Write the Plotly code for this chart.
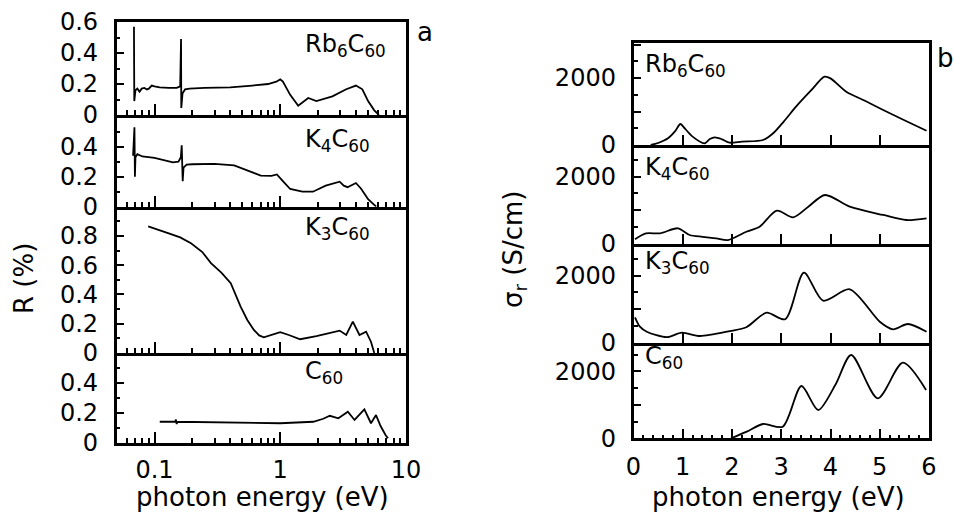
import numpy as np
import plotly.graph_objects as go

W, H = 954, 525

# ---------------- data: panel a, reflectivity R (%) vs photon energy (eV), log axis
rb6_refl_energy = [0.0686, 0.0690, 0.0705, 0.073, 0.076, 0.079, 0.083, 0.087, 0.090, 0.095, 0.10, 0.11,
                   0.13, 0.15, 0.160, 0.1625, 0.1632, 0.167, 0.175, 0.19, 0.25, 0.40, 0.60, 0.80, 0.93,
                   1.0, 1.05, 1.2, 1.39, 1.5, 1.67, 1.94, 2.6, 3.35, 4.0, 4.5, 5.0, 5.6, 6.1]
rb6_refl = [0.57, 0.09, 0.16, 0.17, 0.15, 0.17, 0.175, 0.165, 0.17, 0.19, 0.185, 0.178,
            0.175, 0.175, 0.185, 0.49, 0.045, 0.14, 0.165, 0.17, 0.175, 0.178, 0.19, 0.20, 0.215,
            0.23, 0.215, 0.13, 0.06, 0.08, 0.11, 0.09, 0.12, 0.166, 0.19, 0.166, 0.09, 0.03, 0.0]

k4_refl_energy = [0.0675, 0.068, 0.0685, 0.0692, 0.0698, 0.0705, 0.073, 0.08, 0.10, 0.12, 0.14, 0.155,
                  0.162, 0.1645, 0.166, 0.1675, 0.170, 0.18, 0.20, 0.30, 0.43, 0.55, 0.70, 0.85, 0.94,
                  1.05, 1.2, 1.5, 1.82, 2.3, 2.97, 3.2, 3.43, 4.0, 4.4, 5.0, 5.8]
k4_refl = [0.34, 0.40, 0.36, 0.53, 0.20, 0.33, 0.35, 0.335, 0.325, 0.31, 0.295, 0.30,
           0.33, 0.41, 0.33, 0.17, 0.26, 0.28, 0.283, 0.285, 0.275, 0.24, 0.207, 0.205, 0.215,
           0.17, 0.118, 0.10, 0.10, 0.14, 0.167, 0.14, 0.13, 0.158, 0.12, 0.05, 0.0]

k3_refl_energy = [0.089, 0.11, 0.128, 0.16, 0.195, 0.24, 0.281, 0.34, 0.404, 0.484, 0.547, 0.617, 0.68,
                  0.74, 0.834, 1.0, 1.17, 1.44, 1.94, 2.62, 2.97, 3.35, 3.78, 4.27, 4.82, 5.27, 5.6]
k3_refl = [0.865, 0.84, 0.82, 0.79, 0.75, 0.69, 0.614, 0.55, 0.477, 0.317, 0.226, 0.158, 0.12,
           0.107, 0.123, 0.142, 0.123, 0.094, 0.116, 0.14, 0.153, 0.123, 0.214, 0.123, 0.146, 0.077, 0.0]

c60_refl_energy = [0.110, 0.146, 0.148, 0.150, 0.152, 0.30, 1.0, 1.83, 2.2, 2.48, 2.9, 3.45, 3.9,
                   4.67, 5.27, 5.78, 6.3, 6.9, 7.2]
c60_refl = [0.14, 0.14, 0.155, 0.125, 0.14, 0.138, 0.13, 0.14, 0.16, 0.18, 0.163, 0.207, 0.152,
            0.223, 0.13, 0.185, 0.11, 0.05, 0.03]

# ---------------- data: panel b, conductivity sigma_r (S/cm) vs photon energy (eV)
rb6_cond_energy = [0.35, 0.5, 0.7, 0.85, 0.95, 1.05, 1.2, 1.44, 1.55, 1.65, 1.8, 1.95, 2.2, 2.63,
                   2.83, 3.05, 3.3, 3.6, 3.88, 4.0, 4.32, 4.7, 5.07, 5.5, 5.95]
rb6_cond = [0, 60, 200, 420, 627, 480, 250, 50, 180, 230, 170, 70, 100, 149,
            343, 700, 1144, 1620, 2039, 1990, 1591, 1320, 1045, 740, 427]

k4_cond_energy = [0.03, 0.25, 0.54, 0.9, 1.14, 1.4, 1.68, 1.92, 2.29, 2.56, 2.91, 3.24, 3.55, 3.89,
                  4.39, 5.07, 5.54, 5.95]
k4_cond = [125, 300, 304, 454, 254, 200, 155, 104, 352, 501, 979, 782, 1100, 1448,
           1099, 851, 701, 752]

k3_cond_energy = [0.03, 0.13, 0.27, 0.68, 0.98, 1.35, 1.96, 2.29, 2.7, 3.08, 3.46, 3.85, 4.39, 5.0,
                  5.27, 5.57, 5.95]
k3_cond = [758, 478, 328, 165, 299, 200, 349, 460, 896, 699, 2090, 1254, 1594, 627,
           400, 558, 328]

c60_cond_energy = [1.98, 2.3, 2.63, 3.03, 3.41, 3.75, 4.1, 4.42, 4.96, 5.47, 5.94]
c60_cond = [0, 200, 427, 346, 1561, 845, 1600, 2487, 1194, 2257, 1442]

labels = ["Rb<sub>6</sub>C<sub>60</sub>", "K<sub>4</sub>C<sub>60</sub>",
          "K<sub>3</sub>C<sub>60</sub>", "C<sub>60</sub>"]
refl_energy = [rb6_refl_energy, k4_refl_energy, k3_refl_energy, c60_refl_energy]
refl_values = [rb6_refl, k4_refl, k3_refl, c60_refl]
cond_energy = [rb6_cond_energy, k4_cond_energy, k3_cond_energy, c60_cond_energy]
cond_values = [rb6_cond, k4_cond, k3_cond, c60_cond]

refl_ticks = [[0, 0.2, 0.4, 0.6], [0, 0.2, 0.4, 0.6], [0, 0.2, 0.4, 0.6, 0.8, 1.0], [0, 0.2, 0.4, 0.6]]
refl_ticktext = [["0", "0.2", "0.4", "0.6"], ["0", "0.2", "0.4", ""],
                 ["0", "0.2", "0.4", "0.6", "0.8", ""], ["0", "0.2", "0.4", ""]]
log_major = [0.1, 1, 10]
log_major_text = ["0.1", "1", "10"]
lin_major = [0, 1, 2, 3, 4, 5, 6]

# ---------------- layout geometry (pixels in the 954x525 page)
L_X = (116.7, 406.0)
R_X = (633.5, 929.0)
L_Y = [(21.7, 115.0), (115.0, 206.7), (206.7, 353.0), (353.0, 442.7)]
R_Y = [(43.3, 145.0), (145.0, 243.5), (243.5, 342.7), (342.7, 438.3)]
L_LABEL_TOP = [28, 123, 211, 355]
R_LABEL_TOP = [48, 151, 245, 340]
L_PX_PER_UNIT = [155.0, 150.0, 146.3, 149.5]
R_PX_PER_UNIT = 33.5 / 1000.0


def xd(a, b):
    return [a / W, b / W]


def yd(top, bottom):
    return [1 - bottom / H, 1 - top / H]


FONT = dict(family="DejaVu Sans", size=24, color="black")
fig = go.Figure()
layout = dict(width=W, height=H, margin=dict(l=0, r=0, t=0, b=0, autoexpand=False),
              paper_bgcolor="white", plot_bgcolor="rgba(0,0,0,0)", showlegend=False,
              font=FONT, template="none")
annotations = []

axis_common = dict(showline=True, linecolor="black", linewidth=2.5, automargin=False,
                   showgrid=False, zeroline=False, ticks="inside", tickcolor="black",
                   tickfont=FONT, layer="above traces")

log_minor = [v * d for d in (0.01, 0.1, 1) for v in range(2, 10)]
log_minor = [v for v in log_minor if 0.05 <= v <= 10]

for i in range(4):
    n = i + 1
    xs = "x" if n == 1 else f"x{n}"
    ys = "y" if n == 1 else f"y{n}"
    fig.add_trace(go.Scatter(x=refl_energy[i], y=refl_values[i], mode="lines",
                             line=dict(color="black", width=1.8), xaxis=xs, yaxis=ys))
    bottom = (i == 3)
    top, bot = L_Y[i]
    yr = (bot - top) / L_PX_PER_UNIT[i]
    layout[f"xaxis{n}"] = dict(axis_common, type="log", domain=xd(*L_X), anchor=ys,
                               mirror=(i == 0),
                               range=[np.log10(0.05), 1.0005],
                               tickmode="array", tickvals=log_major,
                               ticktext=log_major_text, ticklen=11, tickwidth=2,
                               showticklabels=bottom, ticklabelstandoff=4,
                               minor=dict(ticks="inside", tickmode="array", tickvals=log_minor,
                                          ticklen=5, tickwidth=1.5, tickcolor="black",
                                          showgrid=False))
    layout[f"yaxis{n}"] = dict(axis_common, domain=yd(top, bot), anchor=xs, mirror=True,
                               range=[0, yr], tickmode="array", tickvals=refl_ticks[i],
                               ticktext=refl_ticktext[i], ticklen=8, tickwidth=2,
                               ticklabelstandoff=11,
                               minor=dict(ticks="inside", tickmode="linear", tick0=0, dtick=0.1,
                                          ticklen=4, tickwidth=1.5, tickcolor="black",
                                          showgrid=False))
    annotations.append(dict(text=labels[i], xref="paper", yref="paper", x=303 / W,
                            y=1 - L_LABEL_TOP[i] / H, xanchor="left", yanchor="top",
                            showarrow=False, font=dict(family="DejaVu Sans", size=24, color="black")))

for i in range(4):
    n = i + 5
    xs = f"x{n}"
    ys = f"y{n}"
    fig.add_trace(go.Scatter(x=cond_energy[i], y=cond_values[i], mode="lines",
                             line=dict(color="black", width=1.8, shape="spline", smoothing=0.8),
                             xaxis=xs, yaxis=ys))
    bottom = (i == 3)
    top, bot = R_Y[i]
    yr = (bot - top) / R_PX_PER_UNIT
    xminor = dict(ticks="inside" if bottom else "", tickmode="linear", tick0=0, dtick=0.2,
                  ticklen=4, tickwidth=1.5, tickcolor="black", showgrid=False)
    layout[f"xaxis{n}"] = dict(axis_common, domain=xd(*R_X), anchor=ys, range=[0, 6],
                               mirror=(i == 0),
                               tickmode="array", tickvals=lin_major,
                               ticktext=[str(v) for v in lin_major], ticklen=10, tickwidth=2,
                               showticklabels=bottom, ticklabelstandoff=5, minor=xminor)
    layout[f"yaxis{n}"] = dict(axis_common, domain=yd(top, bot), anchor=xs, mirror=True,
                               range=[0, yr], tickmode="array", tickvals=[0, 1000, 2000, 3000],
                               ticktext=["0", "", "2000", ""], ticklen=8, tickwidth=2,
                               ticklabelstandoff=10,
                               minor=dict(ticks="inside", tickmode="linear", tick0=0, dtick=500,
                                          ticklen=5, tickwidth=1.5, tickcolor="black",
                                          showgrid=False))
    annotations.append(dict(text=labels[i], xref="paper", yref="paper", x=643 / W,
                            y=1 - R_LABEL_TOP[i] / H, xanchor="left", yanchor="top",
                            showarrow=False, font=dict(family="DejaVu Sans", size=24, color="black")))

TITLE_FONT = dict(family="DejaVu Sans", size=26, color="black")
annotations += [
    dict(text="photon energy (eV)", xref="paper", yref="paper", x=262 / W, y=1 - 497 / H,
         xanchor="center", yanchor="middle", showarrow=False, font=TITLE_FONT),
    dict(text="photon energy (eV)", xref="paper", yref="paper", x=778 / W, y=1 - 497 / H,
         xanchor="center", yanchor="middle", showarrow=False, font=TITLE_FONT),
    dict(text="R (%)", xref="paper", yref="paper", x=24 / W, y=1 - 279 / H, textangle=-90,
         xanchor="center", yanchor="middle", showarrow=False, font=TITLE_FONT),
    dict(text="σ<sub>r</sub> (S/cm)", xref="paper", yref="paper", x=514 / W, y=1 - 250 / H,
         textangle=-90, xanchor="center", yanchor="middle", showarrow=False, font=TITLE_FONT),
    dict(text="a", xref="paper", yref="paper", x=425 / W, y=1 - 32 / H,
         xanchor="center", yanchor="middle", showarrow=False, font=TITLE_FONT),
    dict(text="b", xref="paper", yref="paper", x=945 / W, y=1 - 58 / H,
         xanchor="center", yanchor="middle", showarrow=False, font=TITLE_FONT),
]
layout["annotations"] = annotations
fig.update_layout(**layout)
fig.write_html("out.html")
